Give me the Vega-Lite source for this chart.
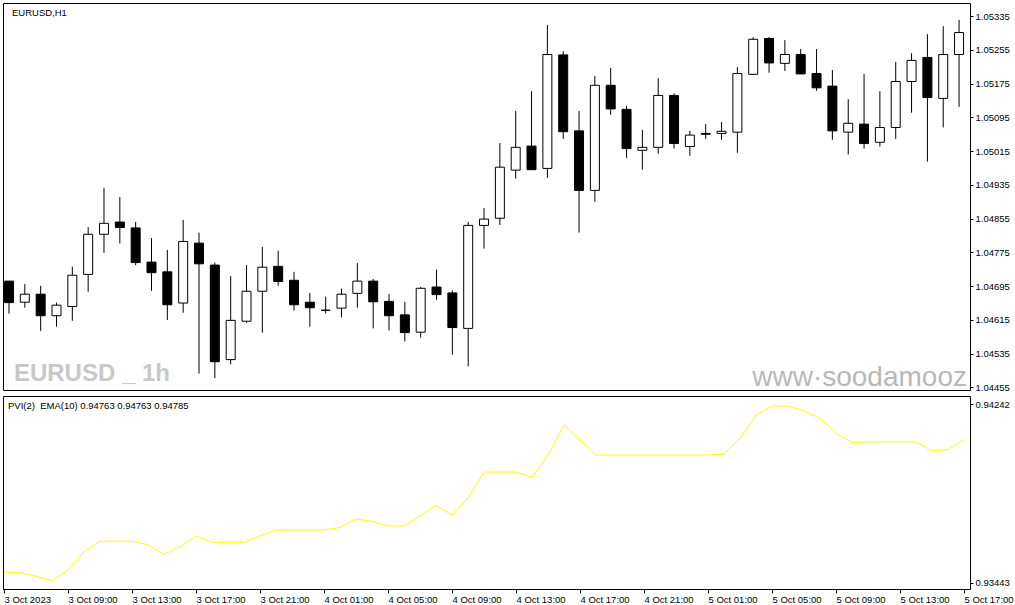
{
  "$schema": "https://vega.github.io/schema/vega-lite/v6.json",
  "background": "white",
  "padding": {"left": 2, "top": 2, "right": 0, "bottom": 0},
  "spacing": 2,
  "datasets": {
    "bars": [
      {"t":"2023-10-03T05:00:00Z","open":1.04707,"high":1.04707,"low":1.04630,"close":1.04656,"pvi":0.93490},
      {"t":"2023-10-03T06:00:00Z","open":1.04657,"high":1.04700,"low":1.04644,"close":1.04676,"pvi":0.93490},
      {"t":"2023-10-03T07:00:00Z","open":1.04676,"high":1.04696,"low":1.04589,"close":1.04625,"pvi":0.93471},
      {"t":"2023-10-03T08:00:00Z","open":1.04625,"high":1.04656,"low":1.04599,"close":1.04650,"pvi":0.93452},
      {"t":"2023-10-03T09:00:00Z","open":1.04647,"high":1.04741,"low":1.04613,"close":1.04721,"pvi":0.93500},
      {"t":"2023-10-03T10:00:00Z","open":1.04723,"high":1.04835,"low":1.04682,"close":1.04818,"pvi":0.93582},
      {"t":"2023-10-03T11:00:00Z","open":1.04818,"high":1.04928,"low":1.04774,"close":1.04844,"pvi":0.93629},
      {"t":"2023-10-03T12:00:00Z","open":1.04847,"high":1.04906,"low":1.04796,"close":1.04834,"pvi":0.93629},
      {"t":"2023-10-03T13:00:00Z","open":1.04833,"high":1.04847,"low":1.04745,"close":1.04751,"pvi":0.93629},
      {"t":"2023-10-03T14:00:00Z","open":1.04752,"high":1.04809,"low":1.04684,"close":1.04727,"pvi":0.93612},
      {"t":"2023-10-03T15:00:00Z","open":1.04729,"high":1.04781,"low":1.04615,"close":1.04651,"pvi":0.93570},
      {"t":"2023-10-03T16:00:00Z","open":1.04655,"high":1.04852,"low":1.04632,"close":1.04801,"pvi":0.93605},
      {"t":"2023-10-03T17:00:00Z","open":1.04797,"high":1.04822,"low":1.04488,"close":1.04748,"pvi":0.93652},
      {"t":"2023-10-03T18:00:00Z","open":1.04745,"high":1.04751,"low":1.04477,"close":1.04516,"pvi":0.93624},
      {"t":"2023-10-03T19:00:00Z","open":1.04521,"high":1.04719,"low":1.04510,"close":1.04614,"pvi":0.93624},
      {"t":"2023-10-03T20:00:00Z","open":1.04612,"high":1.04745,"low":1.04608,"close":1.04683,"pvi":0.93624},
      {"t":"2023-10-03T21:00:00Z","open":1.04683,"high":1.04788,"low":1.04585,"close":1.04740,"pvi":0.93653},
      {"t":"2023-10-03T22:00:00Z","open":1.04742,"high":1.04779,"low":1.04696,"close":1.04706,"pvi":0.93679},
      {"t":"2023-10-03T23:00:00Z","open":1.04709,"high":1.04729,"low":1.04637,"close":1.04651,"pvi":0.93679},
      {"t":"2023-10-04T00:00:00Z","open":1.04657,"high":1.04679,"low":1.04599,"close":1.04644,"pvi":0.93679},
      {"t":"2023-10-04T01:00:00Z","open":1.04638,"high":1.04670,"low":1.04630,"close":1.04638,"pvi":0.93679},
      {"t":"2023-10-04T02:00:00Z","open":1.04643,"high":1.04689,"low":1.04621,"close":1.04676,"pvi":0.93690},
      {"t":"2023-10-04T03:00:00Z","open":1.04678,"high":1.04750,"low":1.04644,"close":1.04707,"pvi":0.93728},
      {"t":"2023-10-04T04:00:00Z","open":1.04707,"high":1.04712,"low":1.04595,"close":1.04658,"pvi":0.93717},
      {"t":"2023-10-04T05:00:00Z","open":1.04659,"high":1.04676,"low":1.04590,"close":1.04625,"pvi":0.93697},
      {"t":"2023-10-04T06:00:00Z","open":1.04627,"high":1.04658,"low":1.04564,"close":1.04585,"pvi":0.93697},
      {"t":"2023-10-04T07:00:00Z","open":1.04586,"high":1.04693,"low":1.04573,"close":1.04690,"pvi":0.93743},
      {"t":"2023-10-04T08:00:00Z","open":1.04693,"high":1.04734,"low":1.04663,"close":1.04675,"pvi":0.93789},
      {"t":"2023-10-04T09:00:00Z","open":1.04679,"high":1.04685,"low":1.04533,"close":1.04597,"pvi":0.93746},
      {"t":"2023-10-04T10:00:00Z","open":1.04595,"high":1.04847,"low":1.04505,"close":1.04839,"pvi":0.93822},
      {"t":"2023-10-04T11:00:00Z","open":1.04839,"high":1.04880,"low":1.04784,"close":1.04854,"pvi":0.93938},
      {"t":"2023-10-04T12:00:00Z","open":1.04856,"high":1.05034,"low":1.04840,"close":1.04977,"pvi":0.93938},
      {"t":"2023-10-04T13:00:00Z","open":1.04970,"high":1.05110,"low":1.04950,"close":1.05024,"pvi":0.93938},
      {"t":"2023-10-04T14:00:00Z","open":1.05027,"high":1.05157,"low":1.04971,"close":1.04971,"pvi":0.93914},
      {"t":"2023-10-04T15:00:00Z","open":1.04974,"high":1.05314,"low":1.04952,"close":1.05244,"pvi":0.94014},
      {"t":"2023-10-04T16:00:00Z","open":1.05243,"high":1.05252,"low":1.05044,"close":1.05061,"pvi":0.94148},
      {"t":"2023-10-04T17:00:00Z","open":1.05063,"high":1.05110,"low":1.04822,"close":1.04922,"pvi":0.94081},
      {"t":"2023-10-04T18:00:00Z","open":1.04922,"high":1.05193,"low":1.04895,"close":1.05171,"pvi":0.94014},
      {"t":"2023-10-04T19:00:00Z","open":1.05171,"high":1.05212,"low":1.05101,"close":1.05115,"pvi":0.94014},
      {"t":"2023-10-04T20:00:00Z","open":1.05114,"high":1.05122,"low":1.04999,"close":1.05021,"pvi":0.94014},
      {"t":"2023-10-04T21:00:00Z","open":1.05017,"high":1.05065,"low":1.04971,"close":1.05024,"pvi":0.94014},
      {"t":"2023-10-04T22:00:00Z","open":1.05024,"high":1.05188,"low":1.05009,"close":1.05147,"pvi":0.94014},
      {"t":"2023-10-04T23:00:00Z","open":1.05147,"high":1.05152,"low":1.05021,"close":1.05033,"pvi":0.94014},
      {"t":"2023-10-05T00:00:00Z","open":1.05026,"high":1.05063,"low":1.05004,"close":1.05053,"pvi":0.94014},
      {"t":"2023-10-05T01:00:00Z","open":1.05057,"high":1.05079,"low":1.05044,"close":1.05055,"pvi":0.94014},
      {"t":"2023-10-05T02:00:00Z","open":1.05057,"high":1.05084,"low":1.05042,"close":1.05062,"pvi":0.94018},
      {"t":"2023-10-05T03:00:00Z","open":1.05060,"high":1.05214,"low":1.05011,"close":1.05199,"pvi":0.94089},
      {"t":"2023-10-05T04:00:00Z","open":1.05197,"high":1.05285,"low":1.05195,"close":1.05280,"pvi":0.94193},
      {"t":"2023-10-05T05:00:00Z","open":1.05282,"high":1.05285,"low":1.05201,"close":1.05224,"pvi":0.94233},
      {"t":"2023-10-05T06:00:00Z","open":1.05223,"high":1.05278,"low":1.05205,"close":1.05244,"pvi":0.94233},
      {"t":"2023-10-05T07:00:00Z","open":1.05244,"high":1.05257,"low":1.05198,"close":1.05198,"pvi":0.94211},
      {"t":"2023-10-05T08:00:00Z","open":1.05199,"high":1.05257,"low":1.05158,"close":1.05165,"pvi":0.94178},
      {"t":"2023-10-05T09:00:00Z","open":1.05169,"high":1.05207,"low":1.05042,"close":1.05063,"pvi":0.94112},
      {"t":"2023-10-05T10:00:00Z","open":1.05060,"high":1.05138,"low":1.05007,"close":1.05081,"pvi":0.94069},
      {"t":"2023-10-05T11:00:00Z","open":1.05079,"high":1.05198,"low":1.05021,"close":1.05033,"pvi":0.94073},
      {"t":"2023-10-05T12:00:00Z","open":1.05036,"high":1.05157,"low":1.05026,"close":1.05071,"pvi":0.94073},
      {"t":"2023-10-05T13:00:00Z","open":1.05071,"high":1.05226,"low":1.05044,"close":1.05180,"pvi":0.94073},
      {"t":"2023-10-05T14:00:00Z","open":1.05180,"high":1.05247,"low":1.05106,"close":1.05230,"pvi":0.94073},
      {"t":"2023-10-05T15:00:00Z","open":1.05237,"high":1.05292,"low":1.04990,"close":1.05142,"pvi":0.94032},
      {"t":"2023-10-05T16:00:00Z","open":1.05140,"high":1.05311,"low":1.05071,"close":1.05244,"pvi":0.94039},
      {"t":"2023-10-05T17:00:00Z","open":1.05244,"high":1.05326,"low":1.05120,"close":1.05296,"pvi":0.94084}
    ]
  },
  "vconcat": [
    {
      "width": 967,
      "height": 387,
      "data": {"name": "bars"},
      "layer": [
        {
          "data": {"values": [{"label": "EURUSD _ 1h"}]},
          "mark": {"type": "text", "align": "left", "baseline": "alphabetic", "font": "Liberation Sans", "fontWeight": "bold", "fontSize": 24, "color": "#c8c8c8"},
          "encoding": {
            "x": {"datum": {"year": 2023, "month": "oct", "date": 3, "hours": 5, "minutes": 18, "seconds": 45, "utc": true}, "type": "temporal", "scale": {"type": "utc", "domain": [{"year": 2023, "month": "oct", "date": 3, "hours": 4, "minutes": 56, "seconds": 15, "utc": true}, {"year": 2023, "month": "oct", "date": 5, "hours": 17, "minutes": 22, "seconds": 30, "utc": true}]}, "axis": null},
            "y": {"datum": 1.04471, "type": "quantitative", "scale": {"domain": [1.04449, 1.05366], "zero": false, "nice": false}, "title": null,
                  "axis": {"orient": "right", "values": [1.04455, 1.04535, 1.04615, 1.04695, 1.04775, 1.04855, 1.04935, 1.05015, 1.05095, 1.05175, 1.05255, 1.05335], "format": ".5f", "tickSize": 3, "labelPadding": 2, "labelFlush": false, "labelOverlap": false, "domain": false, "grid": false}},
            "text": {"field": "label"}
          }
        },
        {
          "data": {"values": [{"label": "www·soodamooz"}]},
          "mark": {"type": "text", "align": "left", "baseline": "alphabetic", "font": "Liberation Sans", "fontSize": 28, "color": "#b8b8b8"},
          "encoding": {
            "x": {"datum": {"year": 2023, "month": "oct", "date": 5, "hours": 3, "minutes": 56, "seconds": 15, "utc": true}, "type": "temporal", "scale": {"type": "utc", "domain": [{"year": 2023, "month": "oct", "date": 3, "hours": 4, "minutes": 56, "seconds": 15, "utc": true}, {"year": 2023, "month": "oct", "date": 5, "hours": 17, "minutes": 22, "seconds": 30, "utc": true}]}, "axis": null},
            "y": {"datum": 1.04459, "type": "quantitative", "scale": {"domain": [1.04449, 1.05366], "zero": false, "nice": false}, "title": null,
                  "axis": {"orient": "right", "values": [1.04455, 1.04535, 1.04615, 1.04695, 1.04775, 1.04855, 1.04935, 1.05015, 1.05095, 1.05175, 1.05255, 1.05335], "format": ".5f", "tickSize": 3, "labelPadding": 2, "labelFlush": false, "labelOverlap": false, "domain": false, "grid": false}},
            "text": {"field": "label"}
          }
        },
        {
          "mark": {"type": "rule", "color": "black", "strokeWidth": 1, "clip": true},
          "encoding": {
            "x": {"field": "t", "type": "temporal", "scale": {"type": "utc", "domain": [{"year": 2023, "month": "oct", "date": 3, "hours": 4, "minutes": 56, "seconds": 15, "utc": true}, {"year": 2023, "month": "oct", "date": 5, "hours": 17, "minutes": 22, "seconds": 30, "utc": true}]}, "axis": null},
            "y": {"field": "low", "type": "quantitative", "scale": {"domain": [1.04449, 1.05366], "zero": false, "nice": false}, "title": null,
                  "axis": {"orient": "right", "values": [1.04455, 1.04535, 1.04615, 1.04695, 1.04775, 1.04855, 1.04935, 1.05015, 1.05095, 1.05175, 1.05255, 1.05335], "format": ".5f", "tickSize": 3, "labelPadding": 2, "labelFlush": false, "labelOverlap": false, "domain": false, "grid": false}},
            "y2": {"field": "high"}
          }
        },
        {
          "mark": {"type": "bar", "size": 9, "stroke": "black", "strokeWidth": 1, "clip": true},
          "encoding": {
            "x": {"field": "t", "type": "temporal", "scale": {"type": "utc", "domain": [{"year": 2023, "month": "oct", "date": 3, "hours": 4, "minutes": 56, "seconds": 15, "utc": true}, {"year": 2023, "month": "oct", "date": 5, "hours": 17, "minutes": 22, "seconds": 30, "utc": true}]}, "axis": null},
            "y": {"field": "open", "type": "quantitative", "scale": {"domain": [1.04449, 1.05366], "zero": false, "nice": false}, "title": null,
                  "axis": {"orient": "right", "values": [1.04455, 1.04535, 1.04615, 1.04695, 1.04775, 1.04855, 1.04935, 1.05015, 1.05095, 1.05175, 1.05255, 1.05335], "format": ".5f", "tickSize": 3, "labelPadding": 2, "labelFlush": false, "labelOverlap": false, "domain": false, "grid": false}},
            "y2": {"field": "close"},
            "fill": {"condition": {"test": "datum.open > datum.close", "value": "black"}, "value": "white"}
          }
        },
        {
          "data": {"values": [{"label": "EURUSD,H1"}]},
          "mark": {"type": "text", "align": "left", "baseline": "alphabetic", "font": "Liberation Sans", "fontSize": 9.5, "color": "black"},
          "encoding": {
            "x": {"datum": {"year": 2023, "month": "oct", "date": 3, "hours": 5, "minutes": 11, "seconds": 15, "utc": true}, "type": "temporal", "scale": {"type": "utc", "domain": [{"year": 2023, "month": "oct", "date": 3, "hours": 4, "minutes": 56, "seconds": 15, "utc": true}, {"year": 2023, "month": "oct", "date": 5, "hours": 17, "minutes": 22, "seconds": 30, "utc": true}]}, "axis": null},
            "y": {"datum": 1.05335, "type": "quantitative", "scale": {"domain": [1.04449, 1.05366], "zero": false, "nice": false}, "title": null,
                  "axis": {"orient": "right", "values": [1.04455, 1.04535, 1.04615, 1.04695, 1.04775, 1.04855, 1.04935, 1.05015, 1.05095, 1.05175, 1.05255, 1.05335], "format": ".5f", "tickSize": 3, "labelPadding": 2, "labelFlush": false, "labelOverlap": false, "domain": false, "grid": false}},
            "text": {"field": "label"}
          }
        }
      ]
    },
    {
      "width": 967,
      "height": 193,
      "data": {"name": "bars"},
      "layer": [
        {
          "mark": {"type": "line", "color": "#ffff00", "strokeWidth": 1, "clip": true},
          "encoding": {
            "x": {"field": "t", "type": "temporal", "scale": {"type": "utc", "domain": [{"year": 2023, "month": "oct", "date": 3, "hours": 4, "minutes": 56, "seconds": 15, "utc": true}, {"year": 2023, "month": "oct", "date": 5, "hours": 17, "minutes": 22, "seconds": 30, "utc": true}]}, "title": null,
                  "axis": {"orient": "bottom",
                    "values": [
                      {"year": 2023, "month": "oct", "date": 3, "hours": 5, "utc": true},
                      {"year": 2023, "month": "oct", "date": 3, "hours": 9, "utc": true},
                      {"year": 2023, "month": "oct", "date": 3, "hours": 13, "utc": true},
                      {"year": 2023, "month": "oct", "date": 3, "hours": 17, "utc": true},
                      {"year": 2023, "month": "oct", "date": 3, "hours": 21, "utc": true},
                      {"year": 2023, "month": "oct", "date": 4, "hours": 1, "utc": true},
                      {"year": 2023, "month": "oct", "date": 4, "hours": 5, "utc": true},
                      {"year": 2023, "month": "oct", "date": 4, "hours": 9, "utc": true},
                      {"year": 2023, "month": "oct", "date": 4, "hours": 13, "utc": true},
                      {"year": 2023, "month": "oct", "date": 4, "hours": 17, "utc": true},
                      {"year": 2023, "month": "oct", "date": 4, "hours": 21, "utc": true},
                      {"year": 2023, "month": "oct", "date": 5, "hours": 1, "utc": true},
                      {"year": 2023, "month": "oct", "date": 5, "hours": 5, "utc": true},
                      {"year": 2023, "month": "oct", "date": 5, "hours": 9, "utc": true},
                      {"year": 2023, "month": "oct", "date": 5, "hours": 13, "utc": true},
                      {"year": 2023, "month": "oct", "date": 5, "hours": 17, "utc": true}
                    ],
                    "labelExpr": "utcFormat(datum.value, '%Y-%m-%d %H') == '2023-10-03 05' ? '3 Oct 2023' : utcFormat(datum.value, '%-d %b %H:%M')",
                    "labelAlign": "left", "labelFlush": false, "labelOverlap": false, "tickSize": 4, "labelPadding": 1, "domain": false, "grid": false}},
            "y": {"field": "pvi", "type": "quantitative", "scale": {"domain": [0.93415, 0.94278], "zero": false, "nice": false}, "title": null,
                  "axis": {"orient": "right", "values": [0.93443, 0.94242], "format": ".5f", "tickSize": 3, "labelPadding": 2, "labelFlush": false, "labelOverlap": false, "domain": false, "grid": false}}
          }
        },
        {
          "data": {"values": [{"label": "PVI(2)\u00a0 EMA(10) 0.94763 0.94763 0.94785"}]},
          "mark": {"type": "text", "align": "left", "baseline": "alphabetic", "font": "Liberation Sans", "fontSize": 9.5, "color": "black"},
          "encoding": {
            "x": {"datum": {"year": 2023, "month": "oct", "date": 3, "hours": 5, "minutes": 15, "utc": true}, "type": "temporal", "scale": {"type": "utc", "domain": [{"year": 2023, "month": "oct", "date": 3, "hours": 4, "minutes": 56, "seconds": 15, "utc": true}, {"year": 2023, "month": "oct", "date": 5, "hours": 17, "minutes": 22, "seconds": 30, "utc": true}]}, "title": null},
            "y": {"datum": 0.9422, "type": "quantitative", "scale": {"domain": [0.93415, 0.94278], "zero": false, "nice": false}, "title": null},
            "text": {"field": "label"}
          }
        }
      ]
    }
  ],
  "config": {
    "view": {"stroke": "black", "strokeWidth": 1, "fill": "white"},
    "axis": {"labelFont": "Liberation Sans", "labelFontSize": 9.5, "labelColor": "black", "tickColor": "black", "tickWidth": 1, "domain": false, "grid": false, "labelOverlap": false},
    "axisY": {"labelOverlap": false}
  }
}
